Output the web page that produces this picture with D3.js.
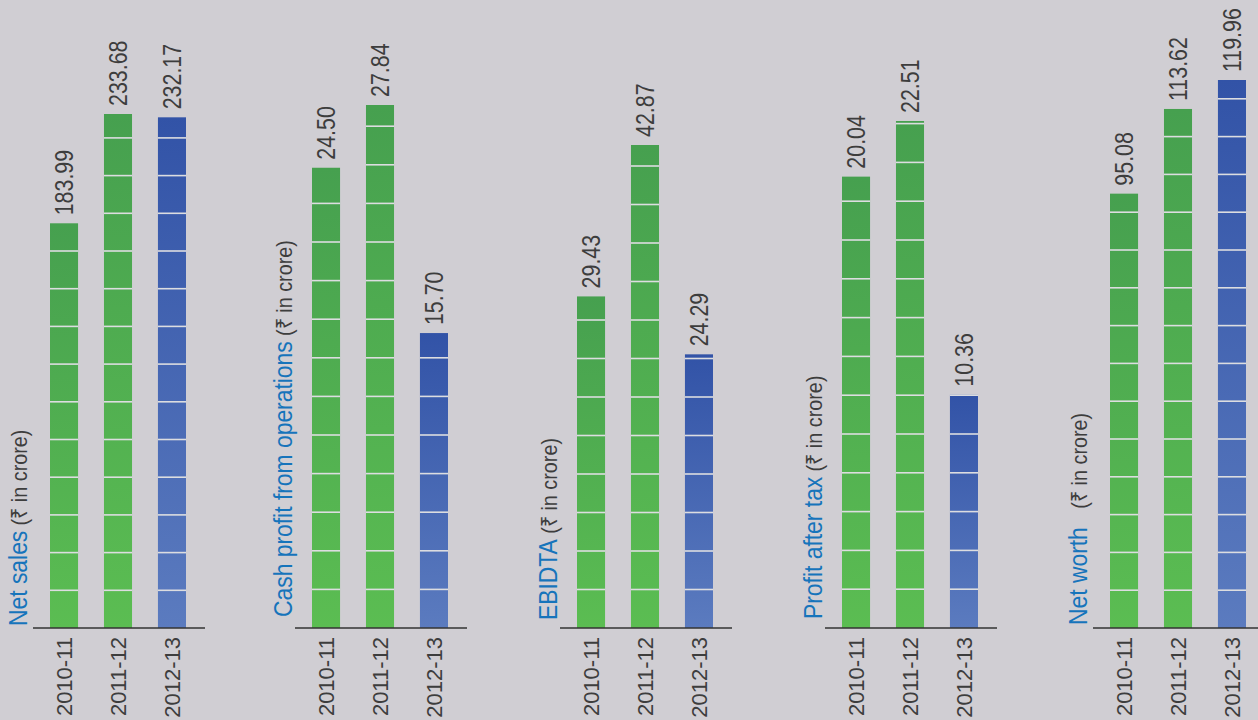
<!DOCTYPE html>
<html>
<head>
<meta charset="utf-8">
<script src="https://cdn.jsdelivr.net/npm/d3@7"></script>
<style>
  html, body { margin: 0; padding: 0; background: #d0ced3; }
  svg { display: block; }
  text { font-family: "Liberation Sans", Arial, sans-serif; }
</style>
</head>
<body>
<svg id="chart"></svg>
<script>
// --- data ---
const years = ['2010-11', '2011-12', '2012-13'];
const metricNames = ['Net sales', 'Cash profit from operations', 'EBIDTA', 'Profit after tax', 'Net worth'];
const unitLabel = '(\u20B9 in crore)';
const netSales = [183.99, 233.68, 232.17];
const cashProfit = [24.50, 27.84, 15.70];
const ebidta = [29.43, 42.87, 24.29];
const profitAfterTax = [20.04, 22.51, 10.36];
const netWorth = [95.08, 113.62, 119.96];
const seriesValues = [netSales, cashProfit, ebidta, profitAfterTax, netWorth];

// --- layout (pixels) ---
const W = 1258, H = 720;
const baseY = 628;
const panelX = [33, 295, 560, 825, 1093];
const maxTop = [114, 105, 145, 121, 80];      // top of the tallest bar
const stripeStep = [37.7, 38.6, 38.5, 38.8, 37.8];
const titleX = [27, 292, 557, 822, 1087];
const titleY = [626, 617, 620, 619, 625];
const titleGap = [6, 6, 6, 6, 21];

const svg = d3.select('#chart').attr('width', W).attr('height', H);
svg.append('rect').attr('width', W).attr('height', H).attr('fill', '#d0ced3');

const defs = svg.append('defs');
function grad(id, top, bottom) {
  const g = defs.append('linearGradient').attr('id', id)
    .attr('x1', 0).attr('y1', 0).attr('x2', 0).attr('y2', 1);
  g.append('stop').attr('offset', '0%').attr('stop-color', top);
  g.append('stop').attr('offset', '100%').attr('stop-color', bottom);
}
grad('g-green', '#46a04f', '#5bbd52');
grad('g-blue', '#3253a7', '#5b7bbf');

seriesValues.forEach((vals, p) => {
  const x0 = panelX[p];
  const g = svg.append('g');

  const x = d3.scaleBand().domain(years).range([x0 + 17, x0 + 153])
    .paddingInner(0.48).paddingOuter(0);
  const y = d3.scaleLinear().domain([0, d3.max(vals)]).range([baseY, maxTop[p]]);

  const rows = years.map((yr, i) => ({ yr, v: vals[i], i }));

  // bars
  g.selectAll('.bar')
    .data(rows)
    .join('rect')
      .attr('class', 'bar')
      .attr('x', d => x(d.yr))
      .attr('y', d => y(d.v))
      .attr('width', x.bandwidth())
      .attr('height', d => baseY - y(d.v))
      .attr('fill', d => d.i === 2 ? 'url(#g-blue)' : 'url(#g-green)');

  // light stripes every fixed step from the baseline
  rows.forEach(d => {
    const top = y(d.v);
    for (let k = 1; baseY - k * stripeStep[p] > top; k++) {
      const sy = baseY - k * stripeStep[p];
      g.append('line')
        .attr('x1', x(d.yr)).attr('x2', x(d.yr) + x.bandwidth())
        .attr('y1', sy).attr('y2', sy)
        .attr('stroke', '#dcdde0').attr('stroke-width', 1.6);
    }
  });

  // value labels (condensed)
  g.selectAll('.val')
    .data(rows)
    .join('text')
      .attr('class', 'val')
      .attr('transform', d => `translate(${x(d.yr) + x.bandwidth() / 2},${y(d.v) - 8}) rotate(-90) scale(0.84,1)`)
      .attr('dy', '0.35em')
      .attr('font-size', 25.5)
      .attr('fill', '#3d3d3d')
      .text(d => d.v.toFixed(2));

  // x axis
  g.append('g')
    .attr('transform', `translate(0,${baseY})`)
    .call(d3.axisBottom(x).tickSize(0))
    .call(ax => {
      ax.select('.domain').remove();
      ax.selectAll('.tick text')
        .attr('transform', 'rotate(-90)')
        .attr('text-anchor', 'end')
        .attr('x', -9).attr('y', 0)
        .attr('dy', '0.35em')
        .attr('font-size', 22)
        .attr('font-family', '"Liberation Sans", Arial, sans-serif')
        .attr('fill', '#3d3d3d');
    });

  g.append('line')
    .attr('x1', x0).attr('x2', x0 + 172)
    .attr('y1', baseY).attr('y2', baseY)
    .attr('stroke', '#333').attr('stroke-width', 1.6);

  // title
  const t = g.append('text')
    .attr('transform', `translate(${titleX[p]},${titleY[p]}) rotate(-90) scale(0.88,1)`);
  t.append('tspan').attr('font-size', 26).attr('fill', '#1674bb').text(metricNames[p]);
  t.append('tspan').attr('dx', titleGap[p]).attr('font-size', 22.5).attr('fill', '#3d3d3d').text(unitLabel);
});
</script>
</body>
</html>
